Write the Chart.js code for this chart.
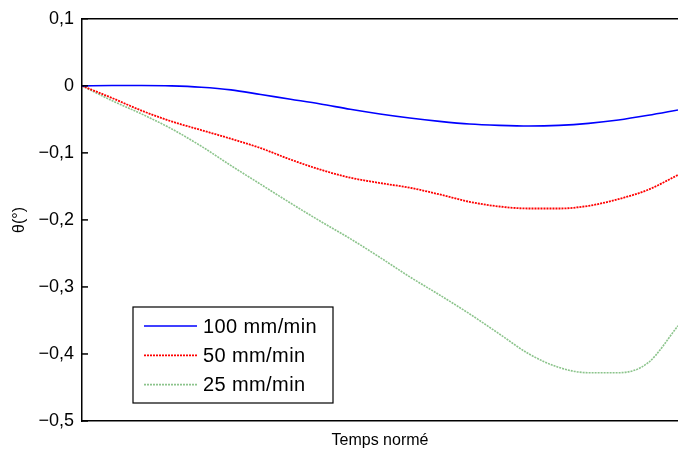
<!DOCTYPE html>
<html>
<head>
<meta charset="utf-8">
<script src="https://cdn.jsdelivr.net/npm/chart.js@4.4.1/dist/chart.umd.min.js"></script>
<style>
  html, body { margin: 0; padding: 0; background: #fff; }
  #wrap { width: 678px; height: 452px; }
</style>
</head>
<body>
<div id="wrap"><canvas id="chart"></canvas></div>
<script>
// normalised time, 21 samples
const tNorm = [0, 0.05, 0.1, 0.15, 0.2, 0.25, 0.3, 0.35, 0.4, 0.45, 0.5,
  0.55, 0.6, 0.65, 0.7, 0.75, 0.8, 0.85, 0.9, 0.95, 1];

const v100 = [0, 0.0005, 0.0005, 0, -0.002, -0.006, -0.013, -0.02, -0.027, -0.035, -0.042,
  -0.048, -0.053, -0.057, -0.059, -0.06, -0.059, -0.056, -0.051, -0.044, -0.036];
const v50 = [0, -0.018, -0.037, -0.053, -0.066, -0.079, -0.093, -0.11, -0.125, -0.137, -0.145,
  -0.152, -0.162, -0.173, -0.18, -0.183, -0.183, -0.179, -0.169, -0.155, -0.133];
const v25 = [0, -0.022, -0.042, -0.064, -0.09, -0.119, -0.147, -0.175, -0.202, -0.228, -0.256,
  -0.285, -0.312, -0.34, -0.37, -0.4, -0.42, -0.428, -0.428, -0.413, -0.358];

const seriesLabels = ["100 mm/min", "50 mm/min", "25 mm/min"];
const yTicks = [0.1, 0, -0.1, -0.2, -0.3, -0.4, -0.5];
const xTitle = "Temps normé";
const yTitle = "θ(°)";

function pts(vals) {
  return vals.map((v, i) => ({ x: tNorm[i], y: v }));
}

function fmt(v) {
  const r = Math.round(v * 10) / 10;
  if (r === 0) return "0";
  return r.toFixed(1).replace(".", ",").replace("-", "\u2212");
}

// inward ticks + frame + legend + x title
const extras = {
  id: "extras",
  afterDraw(chart) {
    const ctx = chart.ctx;
    const a = chart.chartArea;
    const ys = chart.scales.y;
    ctx.save();
    ctx.strokeStyle = "#000";
    ctx.lineWidth = 1.5;
    // top frame
    ctx.beginPath();
    ctx.moveTo(a.left, a.top);
    ctx.lineTo(a.right, a.top);
    ctx.stroke();
    // inward ticks
    yTicks.forEach((t) => {
      const py = ys.getPixelForValue(t);
      ctx.beginPath();
      ctx.moveTo(a.left, py);
      ctx.lineTo(a.left + 6, py);
      ctx.stroke();
    });
    // x title
    ctx.fillStyle = "#000";
    ctx.font = "16px 'Liberation Sans', Arial, sans-serif";
    ctx.textAlign = "center";
    ctx.textBaseline = "middle";
    ctx.fillText(xTitle, (a.left + a.right) / 2, 441);

    // legend box
    const bx = 133, by = 307, bw = 200, bh = 96;
    ctx.fillStyle = "#fff";
    ctx.fillRect(bx, by, bw, bh);
    ctx.lineWidth = 1.2;
    ctx.strokeRect(bx, by, bw, bh);
    ctx.font = "20px 'Liberation Sans', Arial, sans-serif";
    ctx.letterSpacing = "0.4px";
    ctx.textAlign = "left";
    chart.data.datasets.forEach((ds, i) => {
      const cy = 326 + i * 29.3;
      ctx.save();
      ctx.strokeStyle = ds.borderColor;
      ctx.lineWidth = ds.borderWidth;
      ctx.setLineDash(ds.borderDash || []);
      ctx.beginPath();
      ctx.moveTo(144, cy);
      ctx.lineTo(197, cy);
      ctx.stroke();
      ctx.restore();
      ctx.fillStyle = "#000";
      ctx.fillText(ds.label, 203, cy + 1);
    });
    ctx.restore();
  }
};

new Chart(document.getElementById("chart"), {
  type: "line",
  data: {
    datasets: [
      {
        label: seriesLabels[0],
        data: pts(v100),
        borderColor: "#0000ff",
        borderWidth: 1.6,
        pointRadius: 0,
        cubicInterpolationMode: "monotone",
      },
      {
        label: seriesLabels[1],
        data: pts(v50),
        borderColor: "#ff0000",
        borderWidth: 1.8,
        borderDash: [2, 1],
        pointRadius: 0,
        cubicInterpolationMode: "monotone",
      },
      {
        label: seriesLabels[2],
        data: pts(v25),
        borderColor: "#8cc48c",
        borderWidth: 1.6,
        borderDash: [2, 1],
        pointRadius: 0,
        cubicInterpolationMode: "monotone",
      },
    ],
  },
  options: {
    responsive: true,
    maintainAspectRatio: false,
    animation: false,
    layout: { padding: { top: 15, right: 0, left: 0, bottom: 0 } },
    plugins: { legend: { display: false }, tooltip: { enabled: false } },
    scales: {
      x: {
        type: "linear",
        min: 0,
        max: 1,
        grid: { drawOnChartArea: false, drawTicks: false },
        border: { display: true, color: "#000", width: 1.5 },
        ticks: { display: false },
        afterFit(scale) { scale.height = 31; },
      },
      y: {
        min: -0.5,
        max: 0.1,
        grid: { drawOnChartArea: false, drawTicks: false },
        border: { display: true, color: "#000", width: 1.5 },
        afterBuildTicks(scale) {
          scale.ticks = yTicks.map((v) => ({ value: v }));
        },
        ticks: {
          padding: 8,
          color: "#000",
          font: { family: "'Liberation Sans', Arial, sans-serif", size: 18 },
          callback: (v) => fmt(v),
        },
        title: {
          display: true,
          text: yTitle,
          color: "#000",
          padding: { top: 10, bottom: 0 },
          font: { family: "'Liberation Sans', Arial, sans-serif", size: 16 },
        },
        afterFit(scale) { scale.width = 82; },
      },
    },
  },
  plugins: [extras],
});
</script>
</body>
</html>
